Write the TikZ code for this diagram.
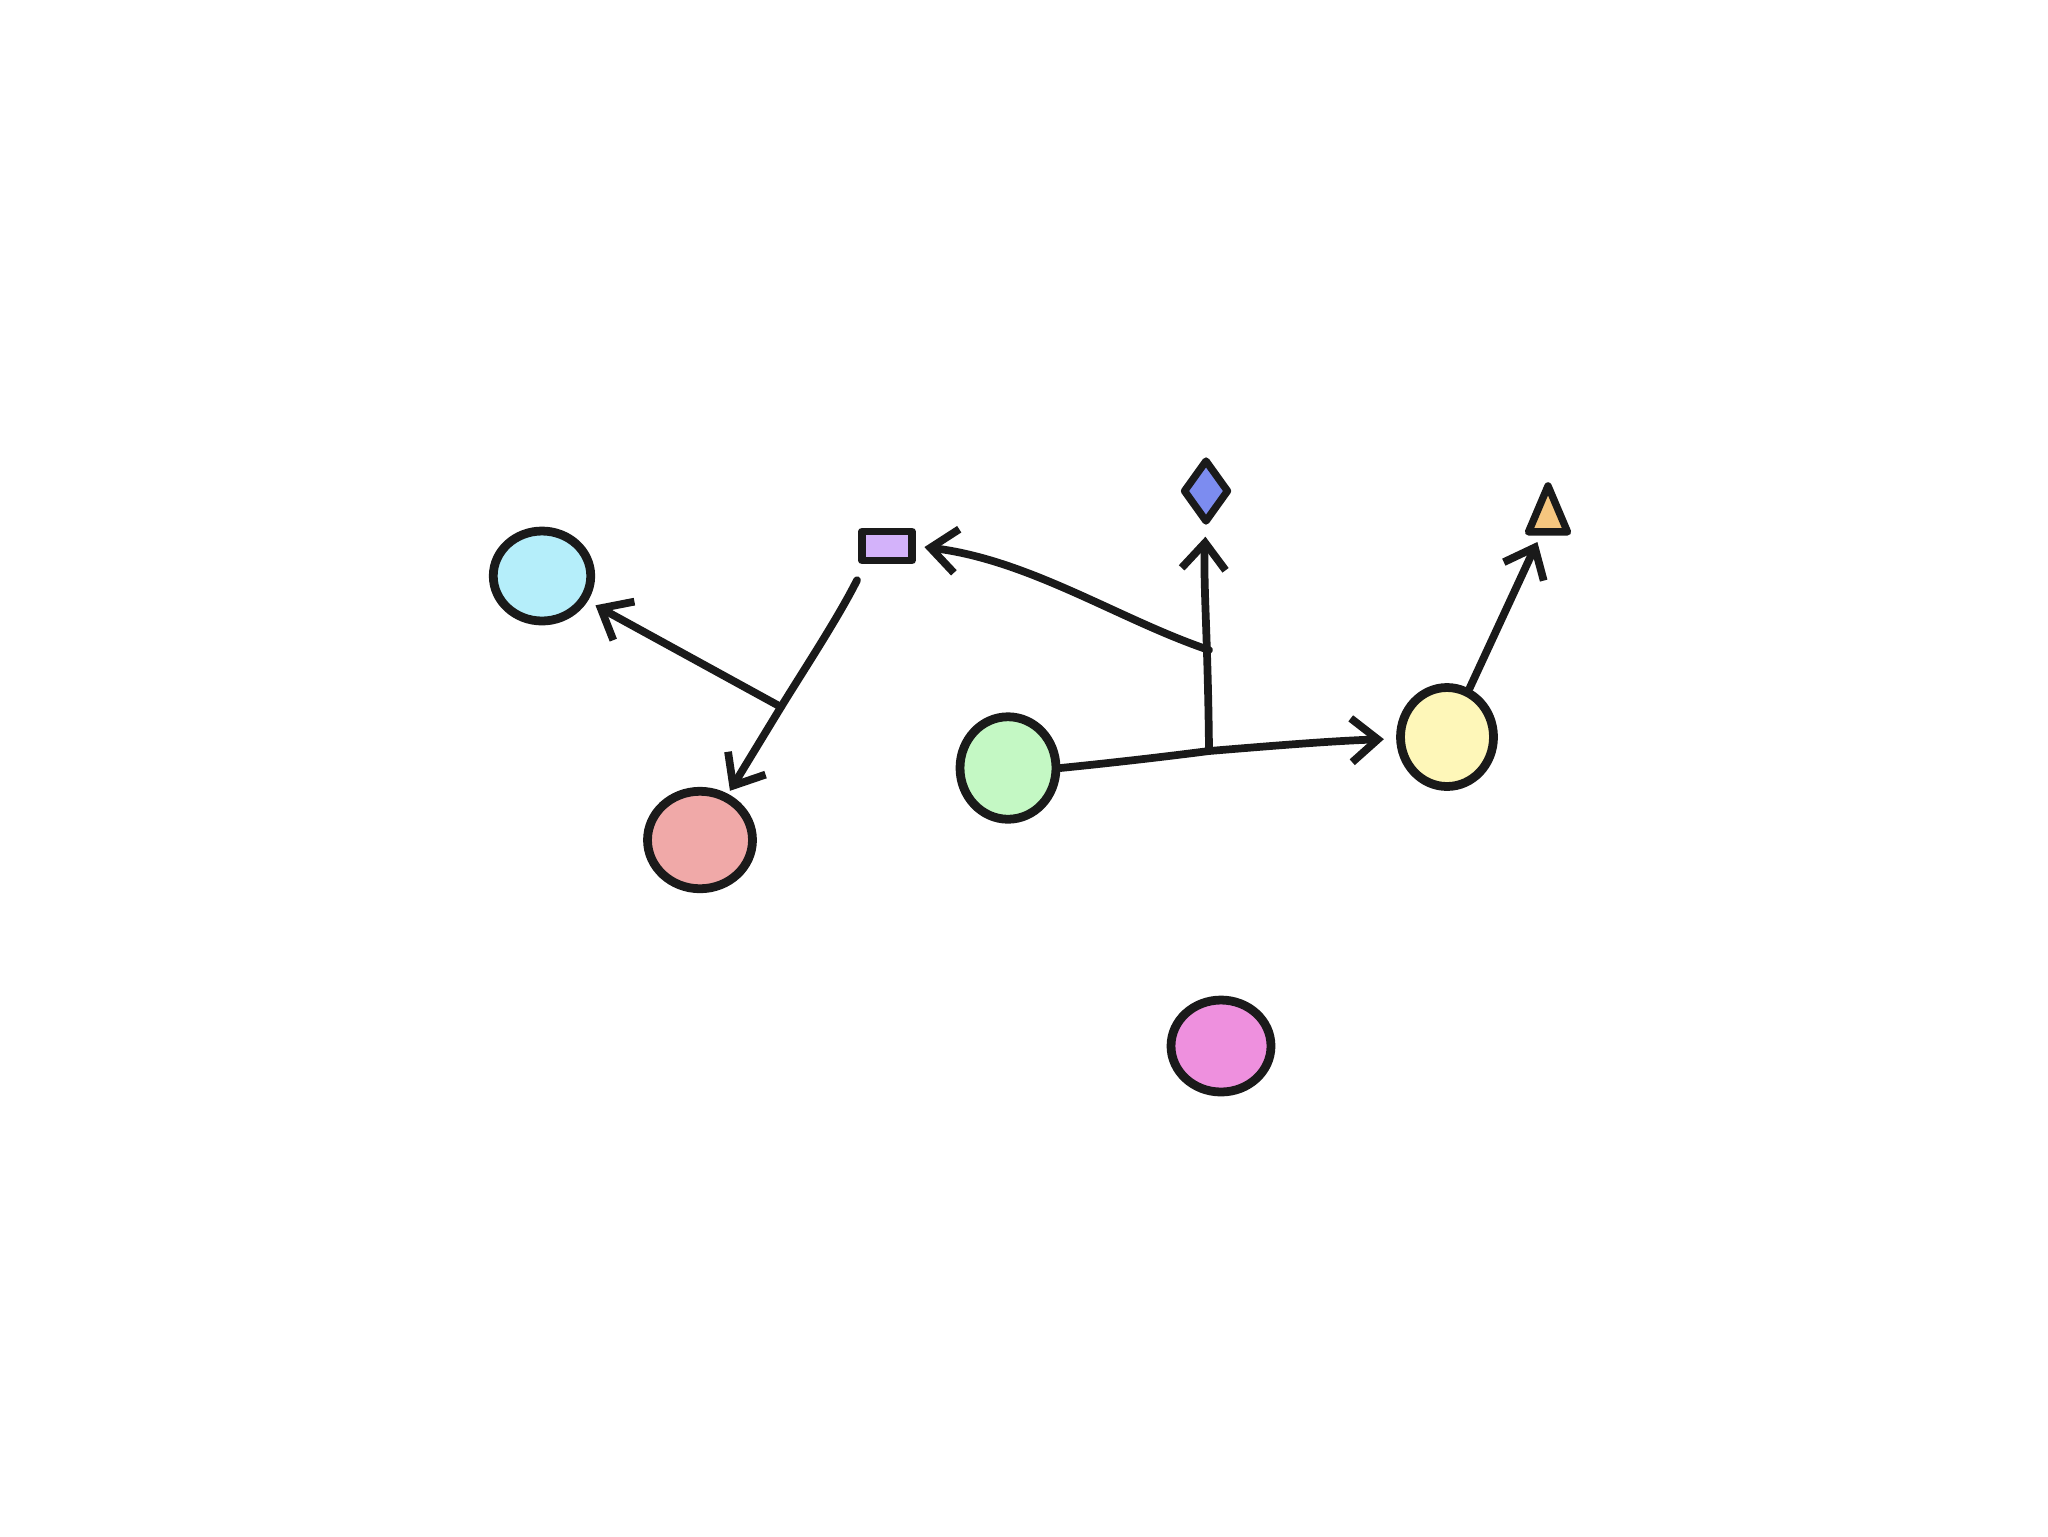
\documentclass[tikz,border=0pt]{standalone}
\usetikzlibrary{shapes.geometric,arrows.meta,calc}
\definecolor{ink}{HTML}{1A1A1A}
\definecolor{cyanf}{HTML}{B5EEFA}
\definecolor{redf}{HTML}{F0A9A8}
\definecolor{greenf}{HTML}{C4F8C4}
\definecolor{yellowf}{HTML}{FEF7B9}
\definecolor{pinkf}{HTML}{EE90DE}
\definecolor{purplef}{HTML}{D3B2FA}
\definecolor{bluef}{HTML}{7C8CF0}
\definecolor{orangef}{HTML}{F6C67F}
\tikzset{
  blob/.style={ellipse, draw=ink, line width=5pt, inner sep=0pt},
  shp/.style={draw=ink, line width=4.2pt, inner sep=0pt, line join=round},
  link/.style={draw=ink, line width=4.4pt, line cap=round},
  arr/.style={link, -{Straight Barb[length=15pt,width=25pt,line width=4.4pt]}, shorten >=4pt}
}
\begin{document}
\begin{tikzpicture}[x=0.02cm,y=-0.02cm]
\useasboundingbox (0,0) rectangle (2048,1536);
\fill[white] (0,0) rectangle (2048,1536);
% nodes
\node[blob, fill=cyanf, minimum width=1.95cm, minimum height=1.8cm] (cyan) at (542,576) {};
\node[blob, fill=redf, minimum width=2.1cm, minimum height=1.95cm] (red) at (700,840) {};
\node[blob, fill=greenf, minimum width=1.92cm, minimum height=2.05cm] (green) at (1008,768) {};
\node[blob, fill=yellowf, minimum width=1.86cm, minimum height=1.98cm] (yellow) at (1447,737) {};
\node[blob, fill=pinkf, minimum width=2.0cm, minimum height=1.84cm] (pink) at (1221,1046) {};
\node[shp, rectangle, fill=purplef, minimum width=1.0cm, minimum height=0.58cm] (rect) at (887,546) {};
\node[shp, diamond, fill=bluef, minimum width=0.92cm, minimum height=1.26cm] (dia) at (1206,491) {};
\node[shp, isosceles triangle, shape border rotate=90, isosceles triangle stretches, fill=orangef, minimum width=0.78cm, minimum height=0.92cm] (tri) at (1548,519) {};
% junctions
\coordinate (J1) at (1209,751);
\coordinate (J2) at (1209,650);
\coordinate (J3) at (781,707);
\coordinate (r0) at ($(rect.south)+(-30,16)$);
% connectors
\draw[link] (green.east) .. controls (1120,762) and (1170,756) .. (J1);
\draw[arr, shorten >=7pt] (J1) .. controls (1270,746) and (1330,741) .. (yellow);
\draw[arr, shorten >=6pt] (J1) .. controls (1208,640) and (1203,580) .. (dia.south);
\draw[arr, shorten >=5pt] (J2) .. controls (1120,620) and (1030,560) .. (rect.east);
\draw[arr, shorten >=2pt] (r0) .. controls (838,618) and (805,668) .. (J3) -- (red);
\draw[arr, shorten >=5pt] (J3) -- (cyan);
\draw[arr, shorten >=4pt] (yellow) -- (tri);
\end{tikzpicture}
\end{document}
